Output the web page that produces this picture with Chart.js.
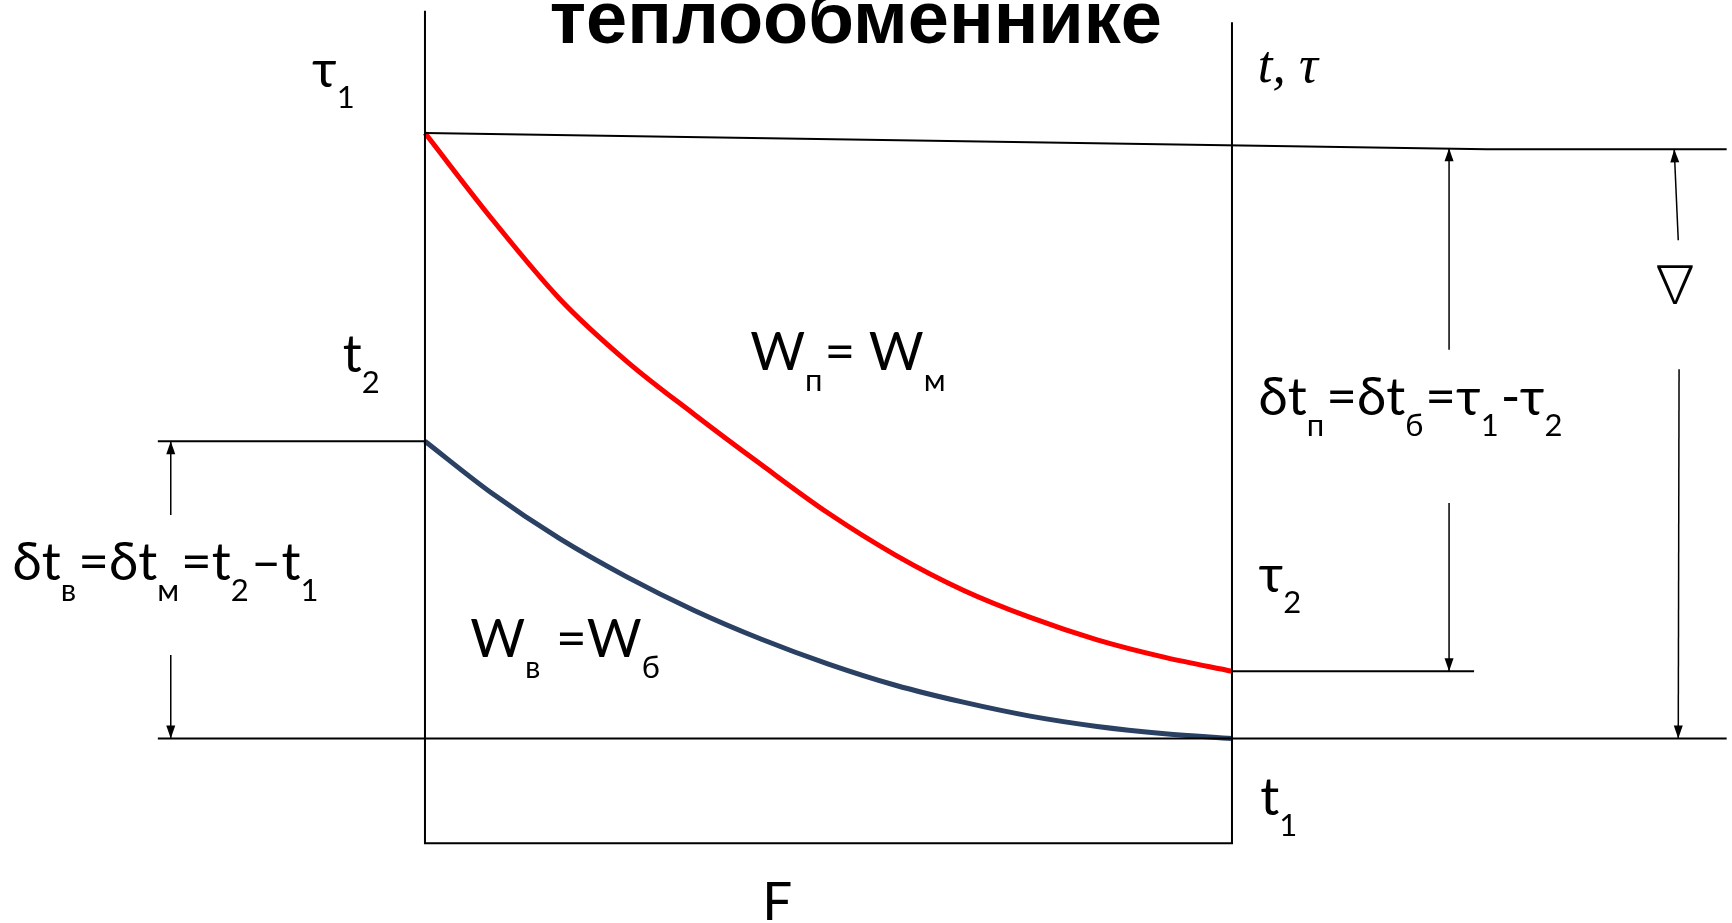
<!DOCTYPE html>
<html lang="ru">
<head>
<meta charset="UTF-8">
<title>Изменение температур в теплообменнике</title>
<script src="https://cdn.jsdelivr.net/npm/chart.js"></script>
<style>
  html, body { margin: 0; padding: 0; background: #fff; overflow: hidden; }
  #wrap { width: 1732px; height: 923px; }
</style>
</head>
<body>
<div id="wrap"><canvas id="chart" width="1732" height="923"></canvas></div>
<script>
// x: surface F as a share of the exchanger (0 .. 1), y: temperature (t1 = 0, tau1 = 100)
const surfaceF = [0, 0.083, 0.167, 0.25, 0.333, 0.417, 0.5, 0.583, 0.667, 0.75, 0.833, 0.917, 1];
const hotT  = [100, 85.8, 72.6, 62.3, 53.6, 45.2, 37.2, 30.3, 24.5, 20.0, 16.3, 13.4, 11.1];
const coldT = [49.1, 40.5, 33.0, 26.7, 21.2, 16.4, 12.3, 8.8, 6.0, 3.7, 2.0, 0.8, 0];

// temperature levels at the ends
const t1 = 0, t2 = 49.1, tau1 = 100, tau2 = 11.1;

// view range of the drawing
const xMin = -0.5266, xMax = 1.6196;
const yMin = -30.47, yMax = 121.97;

function pts(xs, ys) {
    return xs.map((v, i) => ({ x: v, y: ys[i] }));
}

function line(data, width, color) {
    return {
        data: data,
        showLine: true,
        borderColor: color || '#000',
        borderWidth: width,
        pointRadius: 0,
        pointHoverRadius: 0,
        fill: false
    };
}

function arrow(data) {
    const d = line(data, 1.5);
    d.arrow = true;
    return d;
}

function curve(ys, color) {
    const d = line(pts(surfaceF, ys), 5, color);
    d.cubicInterpolationMode = 'monotone';
    d.borderCapStyle = 'butt';
    return d;
}

const datasets = [
    // frame: both walls and the bottom of the box
    line([{ x: 0, y: 120.2 }, { x: 0, y: -17.3 }, { x: 1, y: -17.3 }, { x: 1, y: 118.3 }], 2),
    // level lines
    line([{ x: 0, y: tau1 }, { x: 1.316, y: 97.3 }, { x: 1.613, y: 97.3 }], 2),
    line([{ x: -0.331, y: t2 }, { x: 0, y: t2 }], 2),
    line([{ x: -0.331, y: t1 }, { x: 1.613, y: t1 }], 2),
    line([{ x: 1, y: tau2 }, { x: 1.3, y: tau2 }], 2),
    // dimension arrows
    arrow([{ x: -0.315, y: 36.9 }, { x: -0.315, y: t2 }]),
    arrow([{ x: -0.315, y: 13.8 }, { x: -0.315, y: t1 }]),
    arrow([{ x: 1.269, y: 64.2 }, { x: 1.269, y: 97.5 }]),
    arrow([{ x: 1.269, y: 38.9 }, { x: 1.269, y: tau2 }]),
    arrow([{ x: 1.553, y: 82.3 }, { x: 1.548, y: 97.3 }]),
    arrow([{ x: 1.554, y: 61.0 }, { x: 1.553, y: t1 }]),
    // temperature curves
    curve(coldT, '#2B4163'),
    curve(hotT, '#FF0000')
];

// text labels: [x, y, parts]; a part with a second item is a subscript
const labels = [
    [-0.140, 107.6, [['τ'], ['1', 1]]],
    [-0.102, 60.5, [['t'], ['2', 1]]],
    [0.403, 60.9, [['W'], ['п', 1], ['= W'], ['м', 1]]],
    [1.033, 53.4, [['δt'], ['п', 1], ['=δt'], ['б', 1], ['=τ'], ['1', 1], ['-τ'], ['2', 1]]],
    [1.033, 24.2, [['τ'], ['2', 1]]],
    [0.056, 13.5, [['W'], ['в', 1], [' =W'], ['б', 1]]],
    [-0.511, 26.2, [['δt'], ['в', 1], ['=δt'], ['м', 1], ['=t'], ['2', 1], ['–t'], ['1', 1]]],
    [1.035, -12.6, [['t'], ['1', 1]]],
    [0.418, -30.0, [['F']]]
];

const mainFont = '53px Lato, "Open Sans", sans-serif';
const subFont = '31px Lato, "Open Sans", sans-serif';

const overlay = {
    id: 'overlay',
    afterDatasetsDraw(chart) {
        const ctx = chart.ctx;
        const sx = chart.scales.x, sy = chart.scales.y;
        ctx.save();
        ctx.fillStyle = '#000';

        // arrow heads
        chart.data.datasets.forEach(ds => {
            if (!ds.arrow) return;
            const n = ds.data.length;
            const a = ds.data[n - 2], b = ds.data[n - 1];
            const x0 = sx.getPixelForValue(a.x), y0 = sy.getPixelForValue(a.y);
            const x1 = sx.getPixelForValue(b.x), y1 = sy.getPixelForValue(b.y);
            const ang = Math.atan2(y1 - y0, x1 - x0);
            ctx.save();
            ctx.translate(x1, y1);
            ctx.rotate(ang);
            ctx.beginPath();
            ctx.moveTo(0, 0);
            ctx.lineTo(-13, -4.5);
            ctx.lineTo(-13, 4.5);
            ctx.closePath();
            ctx.fill();
            ctx.restore();
        });

        // labels with subscripts
        ctx.textBaseline = 'alphabetic';
        ctx.textAlign = 'left';
        labels.forEach(([lx, ly, parts]) => {
            let px = sx.getPixelForValue(lx);
            const py = sy.getPixelForValue(ly);
            parts.forEach(p => {
                const sub = p.length > 1;
                ctx.font = sub ? subFont : mainFont;
                ctx.fillText(p[0], px, sub ? py + 21 : py);
                px += ctx.measureText(p[0]).width + (sub ? 2 : 0);
            });
        });

        // axis name t, tau
        ctx.font = 'italic 53px "Liberation Serif", serif';
        ctx.fillText('t, τ', sx.getPixelForValue(1.032), sy.getPixelForValue(108.4));

        // nabla
        ctx.textAlign = 'center';
        ctx.textBaseline = 'middle';
        ctx.font = '300 52px "Noto Sans CJK JP", "DejaVu Sans", sans-serif';
        ctx.fillText('∇', sx.getPixelForValue(1.549), sy.getPixelForValue(75.2));

        // title (only the lower line is visible)
        ctx.textBaseline = 'alphabetic';
        ctx.font = 'bold 74px "Liberation Sans", Arial, sans-serif';
        ctx.fillText('теплообменнике', sx.getPixelForValue(0.534), sy.getPixelForValue(114.9));
        ctx.restore();
    }
};

new Chart(document.getElementById('chart'), {
    type: 'scatter',
    data: { datasets: datasets },
    options: {
        responsive: false,
        animation: false,
        devicePixelRatio: 1,
        events: [],
        layout: { padding: 0 },
        plugins: {
            legend: { display: false },
            tooltip: { enabled: false }
        },
        scales: {
            x: { type: 'linear', min: xMin, max: xMax, display: false },
            y: { type: 'linear', min: yMin, max: yMax, display: false }
        }
    },
    plugins: [overlay]
});
</script>
</body>
</html>
